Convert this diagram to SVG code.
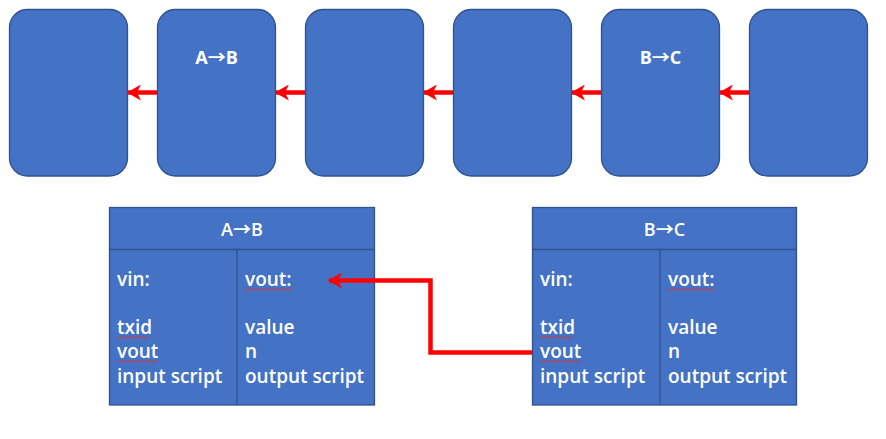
<svg xmlns="http://www.w3.org/2000/svg" width="886" height="439" viewBox="0 0 886 439">
<defs>
<style>
.blk{fill:#4472C4;stroke:#2F528F;stroke-width:1.3}
.t{font-family:"Open Sans","Noto Sans","Liberation Sans",sans-serif;fill:#FFFFFF;font-size:19px;font-weight:600}
.h{font-family:"Open Sans","Noto Sans","Liberation Sans",sans-serif;fill:#FFFFFF;font-size:18px;font-weight:600;text-anchor:middle}
.hb{font-weight:700}
.ar{font-family:"Noto Sans CJK SC","DejaVu Sans",sans-serif;font-weight:700}
.c{fill:none;stroke:#FF0000;stroke-width:4.5}
.w{fill:none;stroke:#E03030;stroke-width:1}
</style>
<marker id="ah" markerUnits="userSpaceOnUse" markerWidth="14" markerHeight="16" refX="13" refY="8" orient="auto">
<path d="M0,0 L14,8 L0,16 L4,8 Z" fill="#FF0000"/>
</marker>
</defs>
<rect width="886" height="439" fill="#FFFFFF"/>
<g id="block1"><rect class="blk" x="9.5" y="9.5" width="118" height="166.5" rx="18"/></g>
<g id="block2"><rect class="blk" x="157.5" y="9.5" width="118" height="166.5" rx="18"/><text class="h hb" x="216.5" y="64">A<tspan class="ar">→</tspan>B</text></g>
<g id="block3"><rect class="blk" x="305.5" y="9.5" width="118" height="166.5" rx="18"/></g>
<g id="block4"><rect class="blk" x="453.5" y="9.5" width="118" height="166.5" rx="18"/></g>
<g id="block5"><rect class="blk" x="601.5" y="9.5" width="118" height="166.5" rx="18"/><text class="h hb" x="660.5" y="64">B<tspan class="ar">→</tspan>C</text></g>
<g id="block6"><rect class="blk" x="749.5" y="9.5" width="118" height="166.5" rx="18"/></g>
<g id="txAB">
<rect class="blk" x="109.5" y="207.5" width="265" height="197.5"/>
<line class="blk" x1="109.5" y1="249.5" x2="374.5" y2="249.5"/>
<line class="blk" x1="237" y1="249.5" x2="237" y2="405"/>
<text class="h" x="242" y="236">A<tspan class="ar">→</tspan>B</text>
<text class="t" x="117" y="286">vin:</text>
<text class="t" x="117" y="334">txid</text>
<text class="t" x="117" y="358">vout</text>
<text class="t" x="117" y="383">input script</text>
<text class="t" x="245" y="286">vout:</text>
<text class="t" x="245" y="334">value</text>
<text class="t" x="245" y="358">n</text>
<text class="t" x="245" y="383">output script</text>
<path class="w" d="M117,337.5 q1,-1.5 2,0 t2,0 t2,0 t2,0 t2,0 t2,0 t2,0 t2,0 t2,0 t2,0 t2,0 t2,0 t2,0 t2,0 t2,0 t2,0"/>
<path class="w" d="M117,361.5 q1,-1.5 2,0 t2,0 t2,0 t2,0 t2,0 t2,0 t2,0 t2,0 t2,0 t2,0 t2,0 t2,0 t2,0 t2,0 t2,0 t2,0 t2,0 t2,0 t2,0 t2,0"/>
<path class="w" d="M245,289.5 q1,-1.5 2,0 t2,0 t2,0 t2,0 t2,0 t2,0 t2,0 t2,0 t2,0 t2,0 t2,0 t2,0 t2,0 t2,0 t2,0 t2,0 t2,0 t2,0 t2,0 t2,0 t2,0 t2,0 t2,0"/>
</g>
<g id="txBC">
<rect class="blk" x="532.5" y="207.5" width="264" height="197.5"/>
<line class="blk" x1="532.5" y1="249.5" x2="796.5" y2="249.5"/>
<line class="blk" x1="660" y1="249.5" x2="660" y2="405"/>
<text class="h" x="664.5" y="236">B<tspan class="ar">→</tspan>C</text>
<text class="t" x="540" y="286">vin:</text>
<text class="t" x="540" y="334">txid</text>
<text class="t" x="540" y="358">vout</text>
<text class="t" x="540" y="383">input script</text>
<text class="t" x="668" y="286">vout:</text>
<text class="t" x="668" y="334">value</text>
<text class="t" x="668" y="358">n</text>
<text class="t" x="668" y="383">output script</text>
<path class="w" d="M540,337.5 q1,-1.5 2,0 t2,0 t2,0 t2,0 t2,0 t2,0 t2,0 t2,0 t2,0 t2,0 t2,0 t2,0 t2,0 t2,0 t2,0 t2,0"/>
<path class="w" d="M540,361.5 q1,-1.5 2,0 t2,0 t2,0 t2,0 t2,0 t2,0 t2,0 t2,0 t2,0 t2,0 t2,0 t2,0 t2,0 t2,0 t2,0 t2,0 t2,0 t2,0 t2,0 t2,0"/>
<path class="w" d="M668,289.5 q1,-1.5 2,0 t2,0 t2,0 t2,0 t2,0 t2,0 t2,0 t2,0 t2,0 t2,0 t2,0 t2,0 t2,0 t2,0 t2,0 t2,0 t2,0 t2,0 t2,0 t2,0 t2,0 t2,0 t2,0"/>
</g>
<g id="connectors">
<line class="c" x1="157" y1="92.5" x2="128" y2="92.5" marker-end="url(#ah)"/>
<line class="c" x1="305" y1="92.5" x2="276" y2="92.5" marker-end="url(#ah)"/>
<line class="c" x1="453" y1="92.5" x2="424" y2="92.5" marker-end="url(#ah)"/>
<line class="c" x1="601" y1="92.5" x2="572" y2="92.5" marker-end="url(#ah)"/>
<line class="c" x1="749" y1="92.5" x2="720" y2="92.5" marker-end="url(#ah)"/>
<polyline class="c" points="532,352.5 430.5,352.5 430.5,280.5 329,280.5" marker-end="url(#ah)"/>
</g>
</svg>
